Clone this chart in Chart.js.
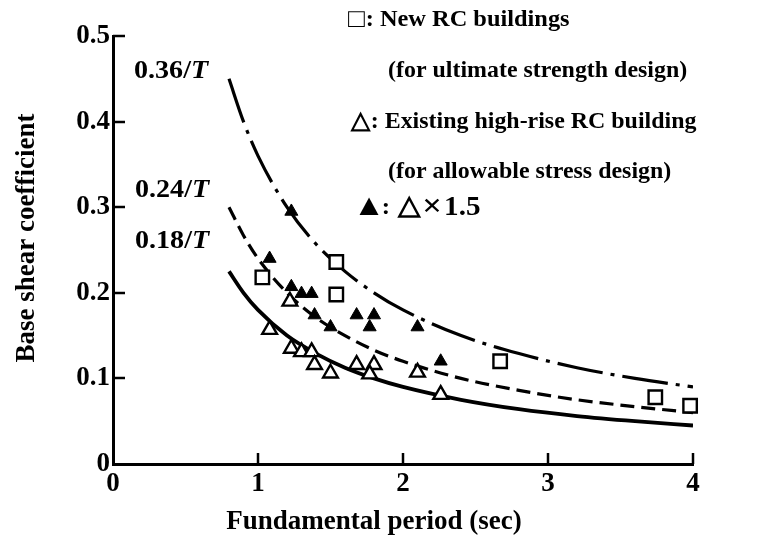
<!DOCTYPE html>
<html>
<head>
<meta charset="utf-8">
<script src="https://cdn.jsdelivr.net/npm/chart.js@4.4.1/dist/chart.umd.min.js"></script>
<style>
html, body { margin: 0; background: #fff; }
</style>
</head>
<body>
<canvas id="shearChart" width="773" height="544"></canvas>
<script>
// design curves c/T, sampled at these periods
const periodT = [0.8, 0.9, 1.0, 1.2, 1.4, 1.6, 1.8, 2.0, 2.4, 2.8, 3.2, 3.6, 4.0];
const curve036 = [0.45, 0.4, 0.36, 0.3, 0.257, 0.225, 0.2, 0.18, 0.15, 0.129, 0.1125, 0.1, 0.09];
const curve024 = [0.3, 0.267, 0.24, 0.2, 0.171, 0.15, 0.133, 0.12, 0.1, 0.086, 0.075, 0.067, 0.06];
const curve018 = [0.225, 0.2, 0.18, 0.15, 0.129, 0.1125, 0.1, 0.09, 0.075, 0.064, 0.056, 0.05, 0.045];

// new RC buildings (squares)
const newRcT = [1.03, 1.54, 1.54, 2.67, 3.74, 3.98];
const newRcC = [0.218, 0.236, 0.198, 0.120, 0.078, 0.068];
// existing high-rise RC buildings (open triangles)
const existT = [1.22, 1.08, 1.23, 1.30, 1.37, 1.39, 1.50, 1.68, 1.80, 1.77, 2.10, 2.26];
const existC = [0.190, 0.157, 0.135, 0.131, 0.131, 0.116, 0.106, 0.116, 0.116, 0.105, 0.107, 0.081];
// existing x 1.5 (filled triangles)
const scaledT = [1.23, 1.08, 1.23, 1.30, 1.37, 1.39, 1.50, 1.68, 1.80, 1.77, 2.10, 2.26];
const scaledC = [0.295, 0.240, 0.207, 0.199, 0.199, 0.174, 0.160, 0.174, 0.174, 0.160, 0.160, 0.120];

const xTicks = [0, 1, 2, 3, 4];
const yTicks = [0, 0.1, 0.2, 0.3, 0.4, 0.5];

const xTitle = 'Fundamental period (sec)';
const yTitle = 'Base shear coefficient';

const serif = '"Liberation Serif", "Times New Roman", serif';

function pairs(xs, ys) {
    return xs.map((x, i) => ({x: x, y: ys[i]}));
}

function curve(label, values, dash, width) {
    return {
        type: 'line',
        label: label,
        data: pairs(periodT, values),
        borderColor: '#000',
        borderWidth: width,
        borderDash: dash,
        pointRadius: 0,
        cubicInterpolationMode: 'monotone',
        fill: false,
        order: 2
    };
}

// inward tick marks, axis titles, curve labels and legend text
const decorations = {
    id: 'decorations',
    afterDraw(chart) {
        const ctx = chart.ctx;
        const xs = chart.scales.x, ys = chart.scales.y;
        const area = chart.chartArea;
        ctx.save();
        ctx.strokeStyle = '#000';
        ctx.lineWidth = 2.5;
        xTicks.forEach(v => {
            if (v === 0) return;
            const px = Math.round(xs.getPixelForValue(v));
            ctx.beginPath();
            ctx.moveTo(px, area.bottom);
            ctx.lineTo(px, area.bottom - 11);
            ctx.stroke();
        });
        yTicks.forEach(v => {
            if (v === 0) return;
            const py = Math.round(ys.getPixelForValue(v));
            ctx.beginPath();
            ctx.moveTo(area.left, py);
            ctx.lineTo(area.left + 12, py);
            ctx.stroke();
        });

        ctx.fillStyle = '#000';
        ctx.textBaseline = 'middle';
        ctx.textAlign = 'left';

        function stretched(parts, x, y, size, sx, weight) {
            ctx.save();
            ctx.translate(x, y);
            ctx.scale(sx, 1);
            let cx = 0;
            parts.forEach(p => {
                ctx.font = (p.italic ? 'italic ' : '') + (weight || 'normal') + ' ' +
                    (p.size || size) + 'px ' + serif;
                ctx.fillText(p.t, cx, p.dy || 0);
                cx += ctx.measureText(p.t).width + (p.gap || 0);
            });
            ctx.restore();
        }

        // axis titles
        ctx.font = 'bold 27px ' + serif;
        ctx.textAlign = 'center';
        ctx.fillText(xTitle, 374, 522);
        ctx.save();
        ctx.translate(27, 238);
        ctx.rotate(-Math.PI / 2);
        ctx.fillText(yTitle, 0, 0);
        ctx.restore();
        ctx.textAlign = 'left';

        // curve labels
        stretched([{t: '0.36/'}, {t: 'T', italic: true}], 134, 71, 26, 1.08, 'bold');
        stretched([{t: '0.24/'}, {t: 'T', italic: true}], 135, 190, 26, 1.08, 'bold');
        stretched([{t: '0.18/'}, {t: 'T', italic: true}], 135, 241, 26, 1.08, 'bold');

        // legend
        stretched([{t: '□', size: 26, gap: 1}, {t: ': New RC buildings'}], 348, 20, 23, 1.06, 'bold');
        stretched([{t: '(for ultimate strength design)'}], 388, 71, 23, 1.04, 'bold');
        stretched([{t: '△', size: 24, gap: 1}, {t: ': Existing high-rise RC building'}], 351, 122, 23, 1.04, 'bold');
        stretched([{t: '(for allowable stress design)'}], 388, 172, 23, 1.04, 'bold');
        stretched([{t: '▲', size: 30, dy: -1, gap: -3}, {t: ': ', gap: 2}, {t: '△', size: 27, dy: -1, gap: 1},
                   {t: '×', size: 32, gap: 2}, {t: '1.5', size: 27}], 353, 208, 23, 1.08, 'bold');
        ctx.restore();
    }
};

new Chart(document.getElementById('shearChart'), {
    type: 'scatter',
    data: {
        datasets: [
            {
                label: 'New RC buildings',
                data: pairs(newRcT, newRcC),
                pointStyle: 'rect',
                pointRadius: 9.5,
                pointBorderWidth: 2.4,
                borderColor: '#000',
                backgroundColor: '#fff',
                clip: false,
                order: 0
            },
            {
                label: 'Existing high-rise RC building',
                data: pairs(existT, existC),
                pointStyle: 'triangle',
                pointRadius: 8.5,
                pointBorderWidth: 2.4,
                borderColor: '#000',
                backgroundColor: '#fff',
                clip: false,
                order: 1
            },
            {
                label: 'Existing x 1.5',
                data: pairs(scaledT, scaledC),
                pointStyle: 'triangle',
                pointRadius: 7.5,
                pointBorderWidth: 1,
                borderColor: '#000',
                backgroundColor: '#000',
                clip: false,
                order: 0
            },
            curve('0.36/T', curve036, [46, 8, 4, 8], 3.2),
            curve('0.24/T', curve024, [14, 7], 3.2),
            curve('0.18/T', curve018, [], 3.8)
        ]
    },
    options: {
        responsive: false,
        animation: false,
        devicePixelRatio: 1,
        layout: {padding: {top: 36, right: 80, left: 0, bottom: 0}},
        plugins: {
            legend: {display: false},
            tooltip: {enabled: false}
        },
        scales: {
            x: {
                type: 'linear',
                min: 0,
                max: 4,
                afterFit(scale) { scale.height = 80; },
                afterBuildTicks(scale) { scale.ticks = xTicks.map(v => ({value: v})); },
                ticks: {
                    color: '#000',
                    padding: 4,
                    font: {family: serif, size: 27, weight: 'bold'}
                },
                grid: {display: true, drawOnChartArea: false, drawTicks: false},
                border: {display: true, color: '#000', width: 3},
                title: {display: false}
            },
            y: {
                min: 0,
                max: 0.5,
                afterFit(scale) { scale.width = 113; },
                afterBuildTicks(scale) { scale.ticks = yTicks.map(v => ({value: v})); },
                ticks: {
                    color: '#000',
                    padding: 3,
                    font: {family: serif, size: 27, weight: 'bold'},
                    callback: v => v === 0 ? '0' : v.toFixed(1)
                },
                grid: {display: true, drawOnChartArea: false, drawTicks: false},
                border: {display: true, color: '#000', width: 3},
                title: {display: false}
            }
        }
    },
    plugins: [decorations]
});
</script>
</body>
</html>
